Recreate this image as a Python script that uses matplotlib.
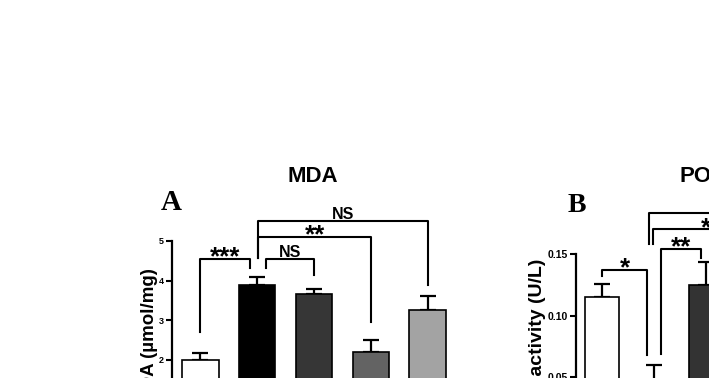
import numpy as np
import matplotlib
matplotlib.use("Agg")
import matplotlib.pyplot as plt

plt.rcParams['font.family'] = ['Liberation Sans', 'DejaVu Sans']
plt.rcParams['font.weight'] = 'bold'

# panel A - MDA
mda_vals = [2.0, 3.9, 3.65, 2.2, 3.25]
mda_err = [0.18, 0.2, 0.13, 0.3, 0.35]
mda_colors = ['white', 'black', '#363636', '#636363', '#a3a3a3']

# panel B - PON1 (only the first three groups are in view)
pon_vals = [0.115, 0.045, 0.125]
pon_err = [0.011, 0.015, 0.0185]
pon_colors = ['white', 'black', '#333333']

W, H = 709, 378
fig = plt.figure(figsize=(W / 100, H / 100), dpi=100)


def px_axes(left, top, width, bottom):
    # pixel box -> figure fraction
    return fig.add_axes([left / W, (H - bottom) / H, width / W, (bottom - top) / H])


def style(ax, fs):
    for s in ['top', 'right', 'bottom']:
        ax.spines[s].set_visible(False)
    ax.spines['left'].set_linewidth(1.6)
    ax.tick_params(axis='y', labelsize=fs, width=1.5, length=4, pad=2)
    ax.set_xticks([])
    for lab in ax.get_yticklabels():
        lab.set_fontweight('bold')


def bracket(ax, x1, x2, y, y1, y2, label, fs, dy):
    ax.plot([x1, x1, x2, x2], [y1, y, y, y2], color='black', lw=1.5, clip_on=False)
    ax.annotate(label, xy=((x1 + x2) / 2, y), xytext=(0, dy), textcoords='offset points',
                ha='center', va='baseline', fontsize=fs, fontweight='bold', annotation_clip=False)


def ylab(text, xc, yc, fs):
    fig.text(xc / W, 1 - yc / H, text, rotation=90, ha='center', va='center',
             fontsize=fs, fontweight='bold')


# ---- A ----
axA = px_axes(172, 241, 284, 439)
xa = np.arange(len(mda_vals))
axA.bar(xa, mda_vals, width=0.64, color=mda_colors, edgecolor='black', linewidth=1.2, zorder=2)
axA.errorbar(xa, mda_vals, yerr=[np.zeros(len(mda_err)), mda_err], fmt='none', ecolor='black',
             elinewidth=1.6, capsize=6, capthick=1.6, zorder=1)
axA.set_xlim(-0.5, 4.5)
axA.set_ylim(0, 5)
axA.set_yticks(range(0, 6))
style(axA, 6.5)
ylab('MDA (\u00b5mol/mg)', 150, 337, 13.5)

bracket(axA, 0, 0.88, 4.55, 2.7, 4.32, '***', 18.5, -4)
bracket(axA, 1.15, 2.0, 4.55, 4.32, 4.14, 'NS', 11.5, 1.5)
bracket(axA, 1.02, 3.0, 5.1, 4.57, 2.95, '**', 18.5, -4)
bracket(axA, 1.02, 4.0, 5.5, 4.57, 3.89, 'NS', 11.5, 1.5)

fig.text(313 / W, 1 - 176 / H, 'MDA', ha='center', va='center', fontsize=16, fontweight='bold')
fig.text(171 / W, 1 - 202 / H, 'A', ha='center', va='center', fontsize=21, fontweight='bold',
         family='Liberation Serif')

# ---- B ----
axB = px_axes(576, 254, 260, 439)
xb = np.arange(len(pon_vals))
axB.bar(xb, pon_vals, width=0.64, color=pon_colors, edgecolor='black', linewidth=1.2, zorder=2)
axB.errorbar(xb, pon_vals, yerr=[np.zeros(len(pon_err)), pon_err], fmt='none', ecolor='black',
             elinewidth=1.6, capsize=6, capthick=1.6, zorder=1)
axB.set_xlim(-0.5, 4.5)
axB.set_ylim(0, 0.15)
axB.set_yticks([0, 0.05, 0.10, 0.15])
axB.set_yticklabels(['0', '0.05', '0.10', '0.15'])
style(axB, 7.5)
ylab('PON1 activity (U/L)', 538, 346, 14)

bracket(axB, 0.0, 0.87, 0.137, 0.132, 0.068, '*', 18.5, -4)
bracket(axB, 1.13, 1.9, 0.154, 0.069, 0.147, '**', 18.5, -4)
bracket(axB, 0.98, 3.0, 0.170, 0.158, 0.150, '*', 18.5, -4)
bracket(axB, 0.90, 4.0, 0.183, 0.158, 0.160, '*', 18.5, -4)

fig.text(710 / W, 1 - 177 / H, 'PON1', ha='center', va='center', fontsize=16, fontweight='bold')
fig.text(577 / W, 1 - 206 / H, 'B', ha='center', va='center', fontsize=20, fontweight='bold',
         family='Liberation Serif')

fig.savefig('out.png', dpi=100)
